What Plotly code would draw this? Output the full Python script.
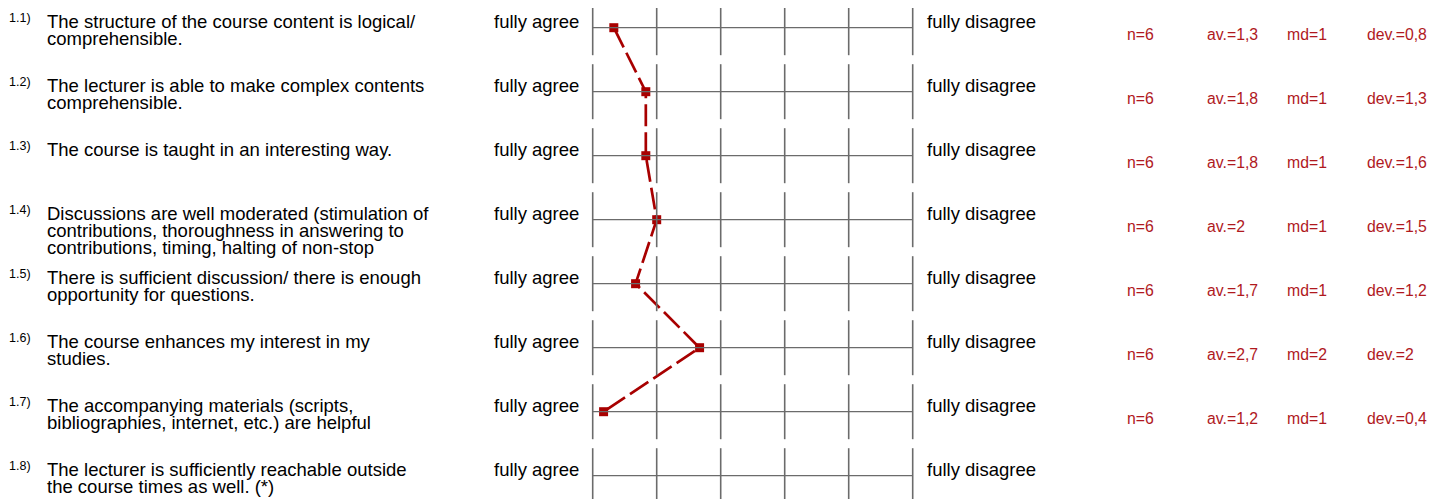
import plotly.graph_objects as go

# ---------------- data ----------------
item_numbers = ["1.1)", "1.2)", "1.3)", "1.4)", "1.5)", "1.6)", "1.7)", "1.8)"]
item_texts = [
    ["The structure of the course content is logical/", "comprehensible."],
    ["The lecturer is able to make complex contents", "comprehensible."],
    ["The course is taught in an interesting way."],
    ["Discussions are well moderated (stimulation of",
     "contributions, thoroughness in answering to",
     "contributions, timing, halting of non-stop"],
    ["There is sufficient discussion/ there is enough", "opportunity for questions."],
    ["The course enhances my interest in my", "studies."],
    ["The accompanying materials (scripts,", "bibliographies, internet, etc.) are helpful"],
    ["The lecturer is sufficiently reachable outside", "the course times as well. (*)"],
]
left_pole = "fully agree"
right_pole = "fully disagree"
scale_points = [1, 2, 3, 4, 5, 6]

# mean values of items 1.1 - 1.7 (1.8 has no data)
means = [1.33, 1.83, 1.83, 2.0, 1.67, 2.67, 1.17]
stat_n = ["n=6", "n=6", "n=6", "n=6", "n=6", "n=6", "n=6"]
stat_av = ["av.=1,3", "av.=1,8", "av.=1,8", "av.=2", "av.=1,7", "av.=2,7", "av.=1,2"]
stat_md = ["md=1", "md=1", "md=1", "md=1", "md=1", "md=2", "md=1"]
stat_dev = ["dev.=0,8", "dev.=1,3", "dev.=1,6", "dev.=1,5", "dev.=1,2", "dev.=2", "dev.=0,4"]

# ---------------- layout geometry ----------------
PAGE_W, PAGE_H = 1445, 499
OFF = 8                           # default body margin of the html page
W, H = PAGE_W - OFF, PAGE_H - OFF
X0_PX, X_STEP = 592.7, 64.0      # page pixel of scale point 1, pixels per scale unit
Y0_PX, Y_STEP = 27.7, 64.0       # page pixel of row 1 line, pixels per row

def xv(px):
    return 1 + (px - X0_PX) / X_STEP

def yv(row, dpx=0.0):
    return row + dpx / Y_STEP

def ypx(px):
    return 1 + (px - Y0_PX) / Y_STEP

FONT = "Liberation Sans, Arial, Helvetica, sans-serif"
GRID = "#6b6b6b"
RED = "#a80000"
TXT_RED = "#b0191e"

n_rows = len(item_numbers)
rows = list(range(1, n_rows + 1))

fig = go.Figure()

shapes = []
half = 27.5 / Y_STEP
for r in rows:
    for sp in scale_points:
        shapes.append(dict(type="line", xref="x", yref="y", x0=sp, x1=sp,
                           y0=r - half, y1=r + half,
                           line=dict(color=GRID, width=1.6)))
    shapes.append(dict(type="line", xref="x", yref="y", x0=scale_points[0], x1=scale_points[-1],
                       y0=r, y1=r, line=dict(color=GRID, width=1.3)))

fig.add_trace(go.Scatter(
    x=means, y=rows[:len(means)], mode="lines+markers",
    line=dict(color=RED, width=2.7, dash="22px,6px"),
    marker=dict(symbol="square", size=9, color=RED),
    hoverinfo="skip", showlegend=False,
))

ann = []
LINE_H = 17.0
MAIN = 18.5
for i, r in enumerate(rows):
    ann.append(dict(x=xv(OFF + 0.2), y=yv(r, -10), text=item_numbers[i], xanchor="left",
                    yanchor="middle", borderpad=0,
                    showarrow=False, font=dict(family=FONT, size=12.5, color="#000")))
    for k, line in enumerate(item_texts[i]):
        ann.append(dict(x=xv(45), y=yv(r, -6.5 + k * LINE_H), text=line, xanchor="left",
                        yanchor="middle", showarrow=False,
                        font=dict(family=FONT, size=MAIN, color="#000")))
    ann.append(dict(x=xv(581), y=yv(r, -6.5), text=left_pole, xanchor="right", yanchor="middle",
                    showarrow=False, font=dict(family=FONT, size=MAIN, color="#000")))
    ann.append(dict(x=xv(925), y=yv(r, -6.5), text=right_pole, xanchor="left", yanchor="middle",
                    showarrow=False, font=dict(family=FONT, size=MAIN, color="#000")))

for i in range(len(means)):
    r = rows[i]
    for px, t in zip([1125, 1205, 1285, 1365], [stat_n[i], stat_av[i], stat_md[i], stat_dev[i]]):
        ann.append(dict(x=xv(px), y=yv(r, 6.5), text=t, xanchor="left", yanchor="middle",
                        showarrow=False, font=dict(family=FONT, size=15.8, color=TXT_RED)))

fig.update_layout(
    width=W, height=H,
    margin=dict(l=0, r=0, t=0, b=0),
    paper_bgcolor="white", plot_bgcolor="white",
    xaxis=dict(range=[xv(OFF), xv(PAGE_W)], visible=False, fixedrange=True),
    yaxis=dict(range=[ypx(PAGE_H), ypx(OFF)], visible=False, fixedrange=True),
    shapes=shapes, annotations=ann,
)

fig.write_html("out.html")
